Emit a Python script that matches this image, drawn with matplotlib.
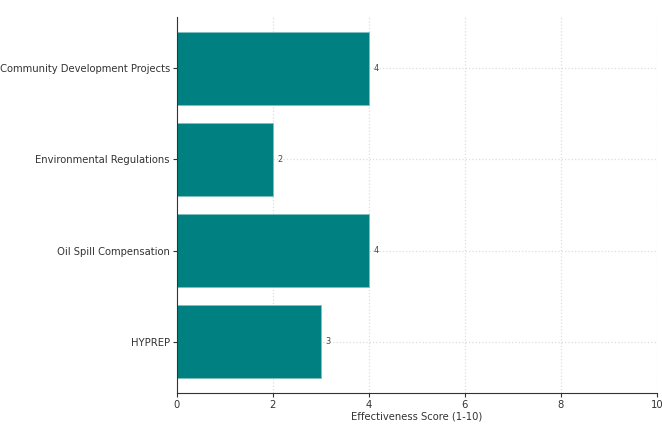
import matplotlib
matplotlib.use("Agg")
from matplotlib import pyplot as plt

plt.rcParams['font.family'] = ['DejaVu Sans']
plt.rcParams['font.stretch'] = 'condensed'

programs = ["HYPREP", "Oil Spill Compensation", "Environmental Regulations",
            "Community Development Projects"]
scores = [3, 4, 2, 4]
x_ticks = [0, 2, 4, 6, 8, 10]

fig = plt.figure(figsize=(6.62, 4.26), dpi=100)
ax = fig.add_axes([0.267, 0.0775, 0.725, 0.8825])

bars = ax.barh(programs, scores, height=0.8, color="#008080", edgecolor="#7fbfbf",
               linewidth=0.6, zorder=2)
for bar, s in zip(bars, scores):
    ax.text(bar.get_width() + 0.1, bar.get_y() + bar.get_height() / 2, str(s),
            va="center", ha="left", fontsize=6.5, color="#444444")

ax.set_xlim(0, 10)
ax.margins(y=0.042)
ax.set_xticks(x_ticks)
ax.set_xlabel("Effectiveness Score (1-10)", fontsize=8, color="#333333", labelpad=1)
ax.tick_params(axis="both", labelsize=8, colors="#333333", length=3, pad=2)
ax.grid(True, linestyle=":", color="#dddddd", linewidth=0.9, zorder=0)
ax.set_axisbelow(True)
for side in ("top", "right"):
    ax.spines[side].set_visible(False)
for side in ("left", "bottom"):
    ax.spines[side].set_color("#333333")

fig.savefig("out.png", dpi=100)
